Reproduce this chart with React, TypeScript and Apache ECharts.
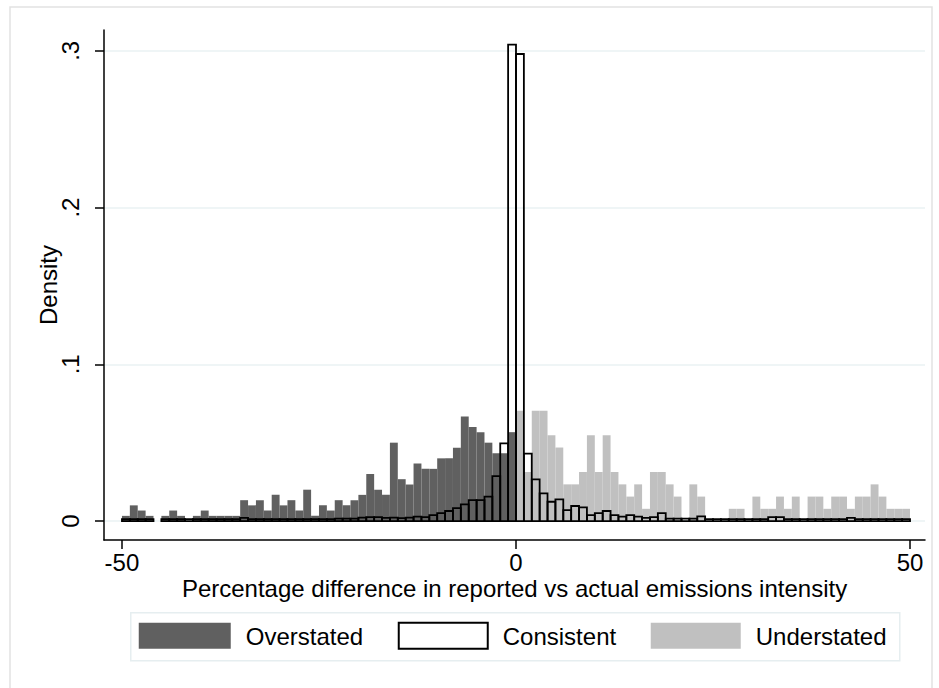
import React, { useEffect, useRef } from "react";
import * as echarts from "echarts";

// Histogram bins: unit width, left edges counted from BIN_START
const BIN_START = -50;
const BIN_WIDTH = 1;
const UNDERSTATED_START = 0;

// Density per bin, bins -50..-1
const overstated = [
  0.0033, 0.01, 0.0067, 0.0033, 0, 0.0033, 0.0067, 0.0033, 0, 0.0033,
  0.0067, 0.0033, 0.0033, 0.0033, 0.0033, 0.0133, 0.01, 0.0133, 0.0067, 0.0167,
  0.01, 0.0133, 0.0067, 0.02, 0.0033, 0.01, 0.0067, 0.0133, 0.01, 0.0133,
  0.0167, 0.03, 0.02, 0.0167, 0.05, 0.0267, 0.0233, 0.0367, 0.0333, 0.0333,
  0.04, 0.04, 0.0467, 0.0667, 0.06, 0.0567, 0.05, 0.0433, 0.0433, 0.0567,
];

// Density per bin, bins -50..49
const consistent = [
  0.0012, 0.0012, 0.0012, 0.0012, 0, 0.0012, 0.0012, 0.0012, 0.0012, 0.0012,
  0.0012, 0.0012, 0.0012, 0.0012, 0.0012, 0.002, 0.0012, 0.0012, 0.0012, 0.0012,
  0.0012, 0.0012, 0.0012, 0.0012, 0.0012, 0.0012, 0.0012, 0.0015, 0.0015, 0.0015,
  0.0022, 0.0025, 0.0025, 0.002, 0.0022, 0.0018, 0.0022, 0.0028, 0.0025, 0.0038,
  0.005, 0.0064, 0.0083, 0.0106, 0.0134, 0.0134, 0.0156, 0.0287, 0.0495, 0.304,
  0.298, 0.043, 0.0266, 0.0177, 0.0123, 0.0138, 0.007, 0.0096, 0.0087, 0.0038,
  0.005, 0.0064, 0.0038, 0.0028, 0.0038, 0.0028, 0.002, 0.0025, 0.005, 0.0015,
  0.0015, 0.0015, 0.0015, 0.003, 0.0012, 0.0012, 0.0012, 0.0012, 0.0012, 0.0012,
  0.0012, 0.0012, 0.0025, 0.0025, 0.0012, 0.0012, 0.0012, 0.0012, 0.0012, 0.0012,
  0.0012, 0.0012, 0.002, 0.0012, 0.0012, 0.0012, 0.0012, 0.0012, 0.0012, 0.0012,
];

// Density per bin, bins 0..49
const understated = [
  0.0703, 0.0313, 0.0703, 0.0703, 0.0547, 0.0469, 0.0234, 0.0234, 0.0313, 0.0547,
  0.0313, 0.0547, 0.0313, 0.0234, 0.0156, 0.0234, 0.0078, 0.0313, 0.0313, 0.0234,
  0.0156, 0, 0.0234, 0.0156, 0, 0, 0, 0.0078, 0.0078, 0,
  0.0156, 0.0078, 0.0078, 0.0156, 0.0078, 0.0156, 0, 0.0156, 0.0156, 0.0078,
  0.0156, 0.0156, 0.0078, 0.0156, 0.0156, 0.0234, 0.0156, 0.0078, 0.0078, 0.0078,
];

const xTicks = [-50, 0, 50];
const xTickLabels = ["-50", "0", "50"];
const yTicks = [0, 0.1, 0.2, 0.3];
const yTickLabels = ["0", ".1", ".2", ".3"];
const seriesNames = ["Overstated", "Consistent", "Understated"];
const xTitle = "Percentage difference in reported vs actual emissions intensity";
const yTitle = "Density";

const FONT = "'Liberation Sans', Arial, Helvetica, sans-serif";
const DARK = "#606060";
const LIGHT = "#c0c0c0";
const GRID_COLOR = "#eaf2f3";

const toBins = (values: number[], start: number) =>
  values.map((v, i) => [start + i * BIN_WIDTH, start + (i + 1) * BIN_WIDTH, v]);

const labelFor = (ticks: number[], labels: string[]) => (v: number) => {
  let best = 0;
  ticks.forEach((t, i) => {
    if (Math.abs(t - v) < Math.abs(ticks[best] - v)) best = i;
  });
  return labels[best];
};

function histSeries(name: string, data: number[][], style: any, z: number) {
  return {
    type: "custom",
    name,
    data,
    z,
    encode: { x: [0, 1], y: 2 },
    renderItem: (_params: any, api: any) => {
      const h = api.value(2);
      if (!h) return null;
      const tl = api.coord([api.value(0), h]);
      const br = api.coord([api.value(1), 0]);
      return {
        type: "rect",
        shape: { x: tl[0], y: tl[1], width: br[0] - tl[0], height: br[1] - tl[1] },
        style,
      };
    },
  };
}

export default function App() {
  const ref = useRef<HTMLDivElement>(null);

  useEffect(() => {
    if (!ref.current) return;
    const chart = echarts.init(ref.current, null, { renderer: "svg" });

    const textStyle = { fontFamily: FONT, fontSize: 24, color: "#000" };

    chart.setOption({
      animation: false,
      backgroundColor: "#fff",
      grid: { left: 104, right: 14, top: 30, bottom: 148 },
      xAxis: {
        type: "value",
        min: -52.28,
        max: 51.9,
        name: xTitle,
        nameLocation: "middle",
        nameGap: 38,
        nameMoveOverlap: false,
        nameTextStyle: { ...textStyle, lineHeight: 20 },
        axisLine: { show: true, onZero: false, lineStyle: { color: "#000", width: 1.5 } },
        axisTick: { show: true, customValues: xTicks, length: 9, lineStyle: { color: "#000", width: 1.5 } },
        axisLabel: {
          show: true,
          customValues: xTicks,
          formatter: labelFor(xTicks, xTickLabels),
          margin: 12,
          lineHeight: 20,
          ...textStyle,
        },
        splitLine: { show: false },
      },
      yAxis: {
        type: "value",
        min: -0.0121,
        max: 0.3133,
        name: yTitle,
        nameLocation: "middle",
        nameGap: 44,
        nameRotate: 90,
        nameMoveOverlap: false,
        nameTextStyle: textStyle,
        axisLine: { show: true, onZero: false, lineStyle: { color: "#000", width: 1.5 } },
        axisTick: { show: true, customValues: yTicks, length: 9, lineStyle: { color: "#000", width: 1.5 } },
        axisLabel: {
          show: true,
          customValues: yTicks,
          formatter: labelFor(yTicks, yTickLabels),
          rotate: 90,
          margin: 22,
          ...textStyle,
        },
        splitLine: { show: true, lineStyle: { color: GRID_COLOR, width: 1.5 } },
      },
      series: [
        histSeries(seriesNames[0], toBins(overstated, BIN_START), { fill: DARK }, 2),
        histSeries(seriesNames[2], toBins(understated, UNDERSTATED_START), { fill: LIGHT }, 3),
        histSeries(
          seriesNames[1],
          toBins(consistent, BIN_START),
          { fill: "none", stroke: "#000", lineWidth: 1.8 },
          4
        ),
      ],
      graphic: [
        {
          type: "rect",
          shape: { x: 10, y: 7, width: 922, height: 700 },
          style: { fill: "none", stroke: "#e2e2e2", lineWidth: 1.5 },
          silent: true,
        },
        {
          type: "group",
          left: 130,
          top: 612,
          children: [
            {
              type: "rect",
              shape: { x: 0, y: 0, width: 769, height: 48 },
              style: { fill: "#fff", stroke: "#e6eef0", lineWidth: 1.5 },
            },
            { type: "rect", shape: { x: 8, y: 10, width: 92, height: 26 }, style: { fill: DARK } },
            {
              type: "text",
              x: 115,
              y: 24,
              style: { text: seriesNames[0], font: `24px ${FONT}`, fill: "#000", verticalAlign: "middle" },
            },
            {
              type: "rect",
              shape: { x: 268, y: 10, width: 89, height: 26 },
              style: { fill: "#fff", stroke: "#000", lineWidth: 2 },
            },
            {
              type: "text",
              x: 372,
              y: 24,
              style: { text: seriesNames[1], font: `24px ${FONT}`, fill: "#000", verticalAlign: "middle" },
            },
            { type: "rect", shape: { x: 520, y: 10, width: 90, height: 26 }, style: { fill: LIGHT } },
            {
              type: "text",
              x: 625,
              y: 24,
              style: { text: seriesNames[2], font: `24px ${FONT}`, fill: "#000", verticalAlign: "middle" },
            },
          ],
        },
      ],
    });

    return () => chart.dispose();
  }, []);

  return (
    <div
      ref={ref}
      style={{ position: "fixed", left: 0, top: 0, width: 939, height: 688, background: "#fff" }}
    />
  );
}
